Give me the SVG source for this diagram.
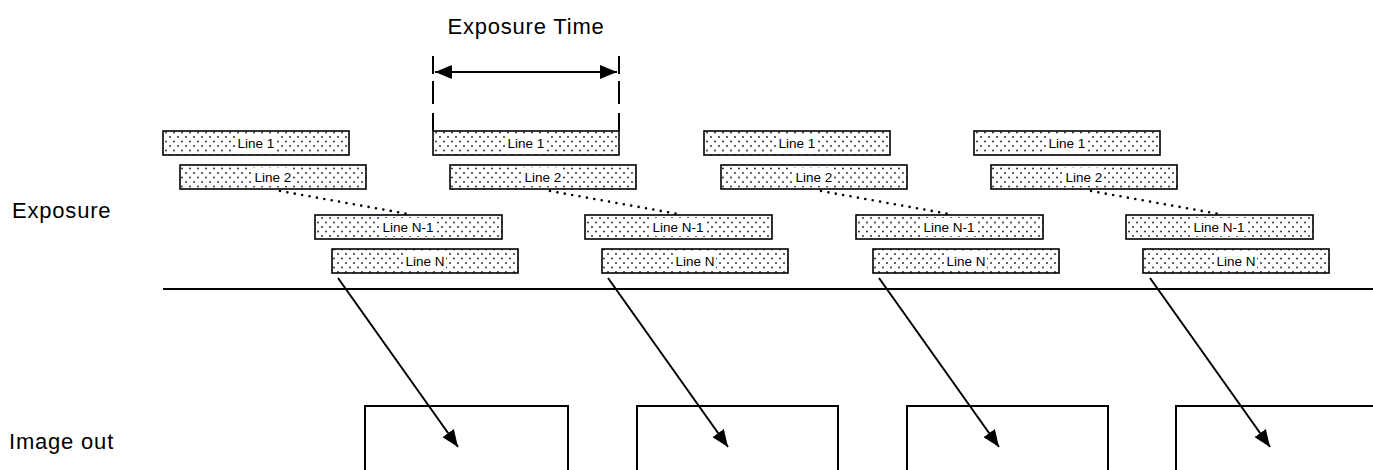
<svg xmlns="http://www.w3.org/2000/svg" width="1373" height="470" viewBox="0 0 1373 470">
<style>
.lbl{font-family:"Liberation Sans",Arial,sans-serif;font-size:22px;letter-spacing:0.8px;fill:#000}
.bar{fill:url(#dots);stroke:#000;stroke-width:1.6}
.bt{font-family:"Liberation Sans",Arial,sans-serif;font-size:13.5px;fill:#000;text-anchor:middle}
.tb{fill:#fff}
.ln{stroke:#000;stroke-width:2;fill:none}
.dot{stroke:#000;stroke-width:2.6;stroke-linecap:round;stroke-dasharray:0 7.5;fill:none}
.dash{stroke:#000;stroke-width:2;fill:none}
</style>
<defs>
<pattern id="dots" width="8" height="9" patternUnits="userSpaceOnUse">
<rect width="8" height="9" fill="#fff"/>
<circle cx="2" cy="2" r="1" fill="#333"/>
<circle cx="6" cy="6.5" r="1" fill="#333"/>
</pattern>
<marker id="ah" markerUnits="userSpaceOnUse" markerWidth="18" markerHeight="14" refX="17" refY="7" orient="auto-start-reverse">
<path d="M0,0 L17,7 L0,14 Z" fill="#000"/>
</marker>
<g id="grp">
<rect class="bar" x="163" y="131" width="186" height="24"/>
<rect class="tb" x="236" y="134" width="40" height="18"/>
<text class="bt" x="256" y="148">Line 1</text>
<rect class="bar" x="180" y="165" width="186" height="24"/>
<rect class="tb" x="253" y="168" width="40" height="18"/>
<text class="bt" x="273" y="182">Line 2</text>
<rect class="bar" x="315" y="215" width="187" height="24"/>
<rect class="tb" x="381" y="218" width="54" height="18"/>
<text class="bt" x="408" y="232">Line N-1</text>
<rect class="bar" x="332" y="249" width="186" height="24"/>
<rect class="tb" x="404" y="252" width="42" height="18"/>
<text class="bt" x="425" y="266">Line N</text>
<path class="dot" d="M280,191 L408,214"/>
</g>
</defs>
<text class="lbl" x="12" y="218">Exposure</text>
<text class="lbl" x="9" y="449">Image out</text>
<g id="exposure-time">
<text class="lbl" x="526" y="34" text-anchor="middle">Exposure Time</text>
<path class="dash" d="M433,56 V74 M433,81 V104 M433,113 V131 M619,56 V74 M619,81 V104 M619,113 V131"/>
</g>
<g id="line-group-1"><use href="#grp"/></g>
<g id="line-group-2"><use href="#grp" x="270"/></g>
<g id="line-group-3"><use href="#grp" x="541"/></g>
<g id="line-group-4"><use href="#grp" x="811"/></g>
<g id="image-box-1"><path class="ln" d="M365,472 V406 H568 V472"/></g>
<g id="image-box-2"><path class="ln" d="M637,472 V406 H838 V472"/></g>
<g id="image-box-3"><path class="ln" d="M907,472 V406 H1108 V472"/></g>
<g id="image-box-4"><path class="ln" d="M1176,472 V406 H1375"/></g>
<g id="connectors">
<path class="ln" d="M435,72 H617" marker-start="url(#ah)" marker-end="url(#ah)"/>
<path class="ln" d="M163,289 H1373"/>
<path class="ln" d="M338,278 L458,447" marker-end="url(#ah)"/>
<path class="ln" d="M608,278 L728,447" marker-end="url(#ah)"/>
<path class="ln" d="M879,278 L999,447" marker-end="url(#ah)"/>
<path class="ln" d="M1150,278 L1270,447" marker-end="url(#ah)"/>
</g>
</svg>
